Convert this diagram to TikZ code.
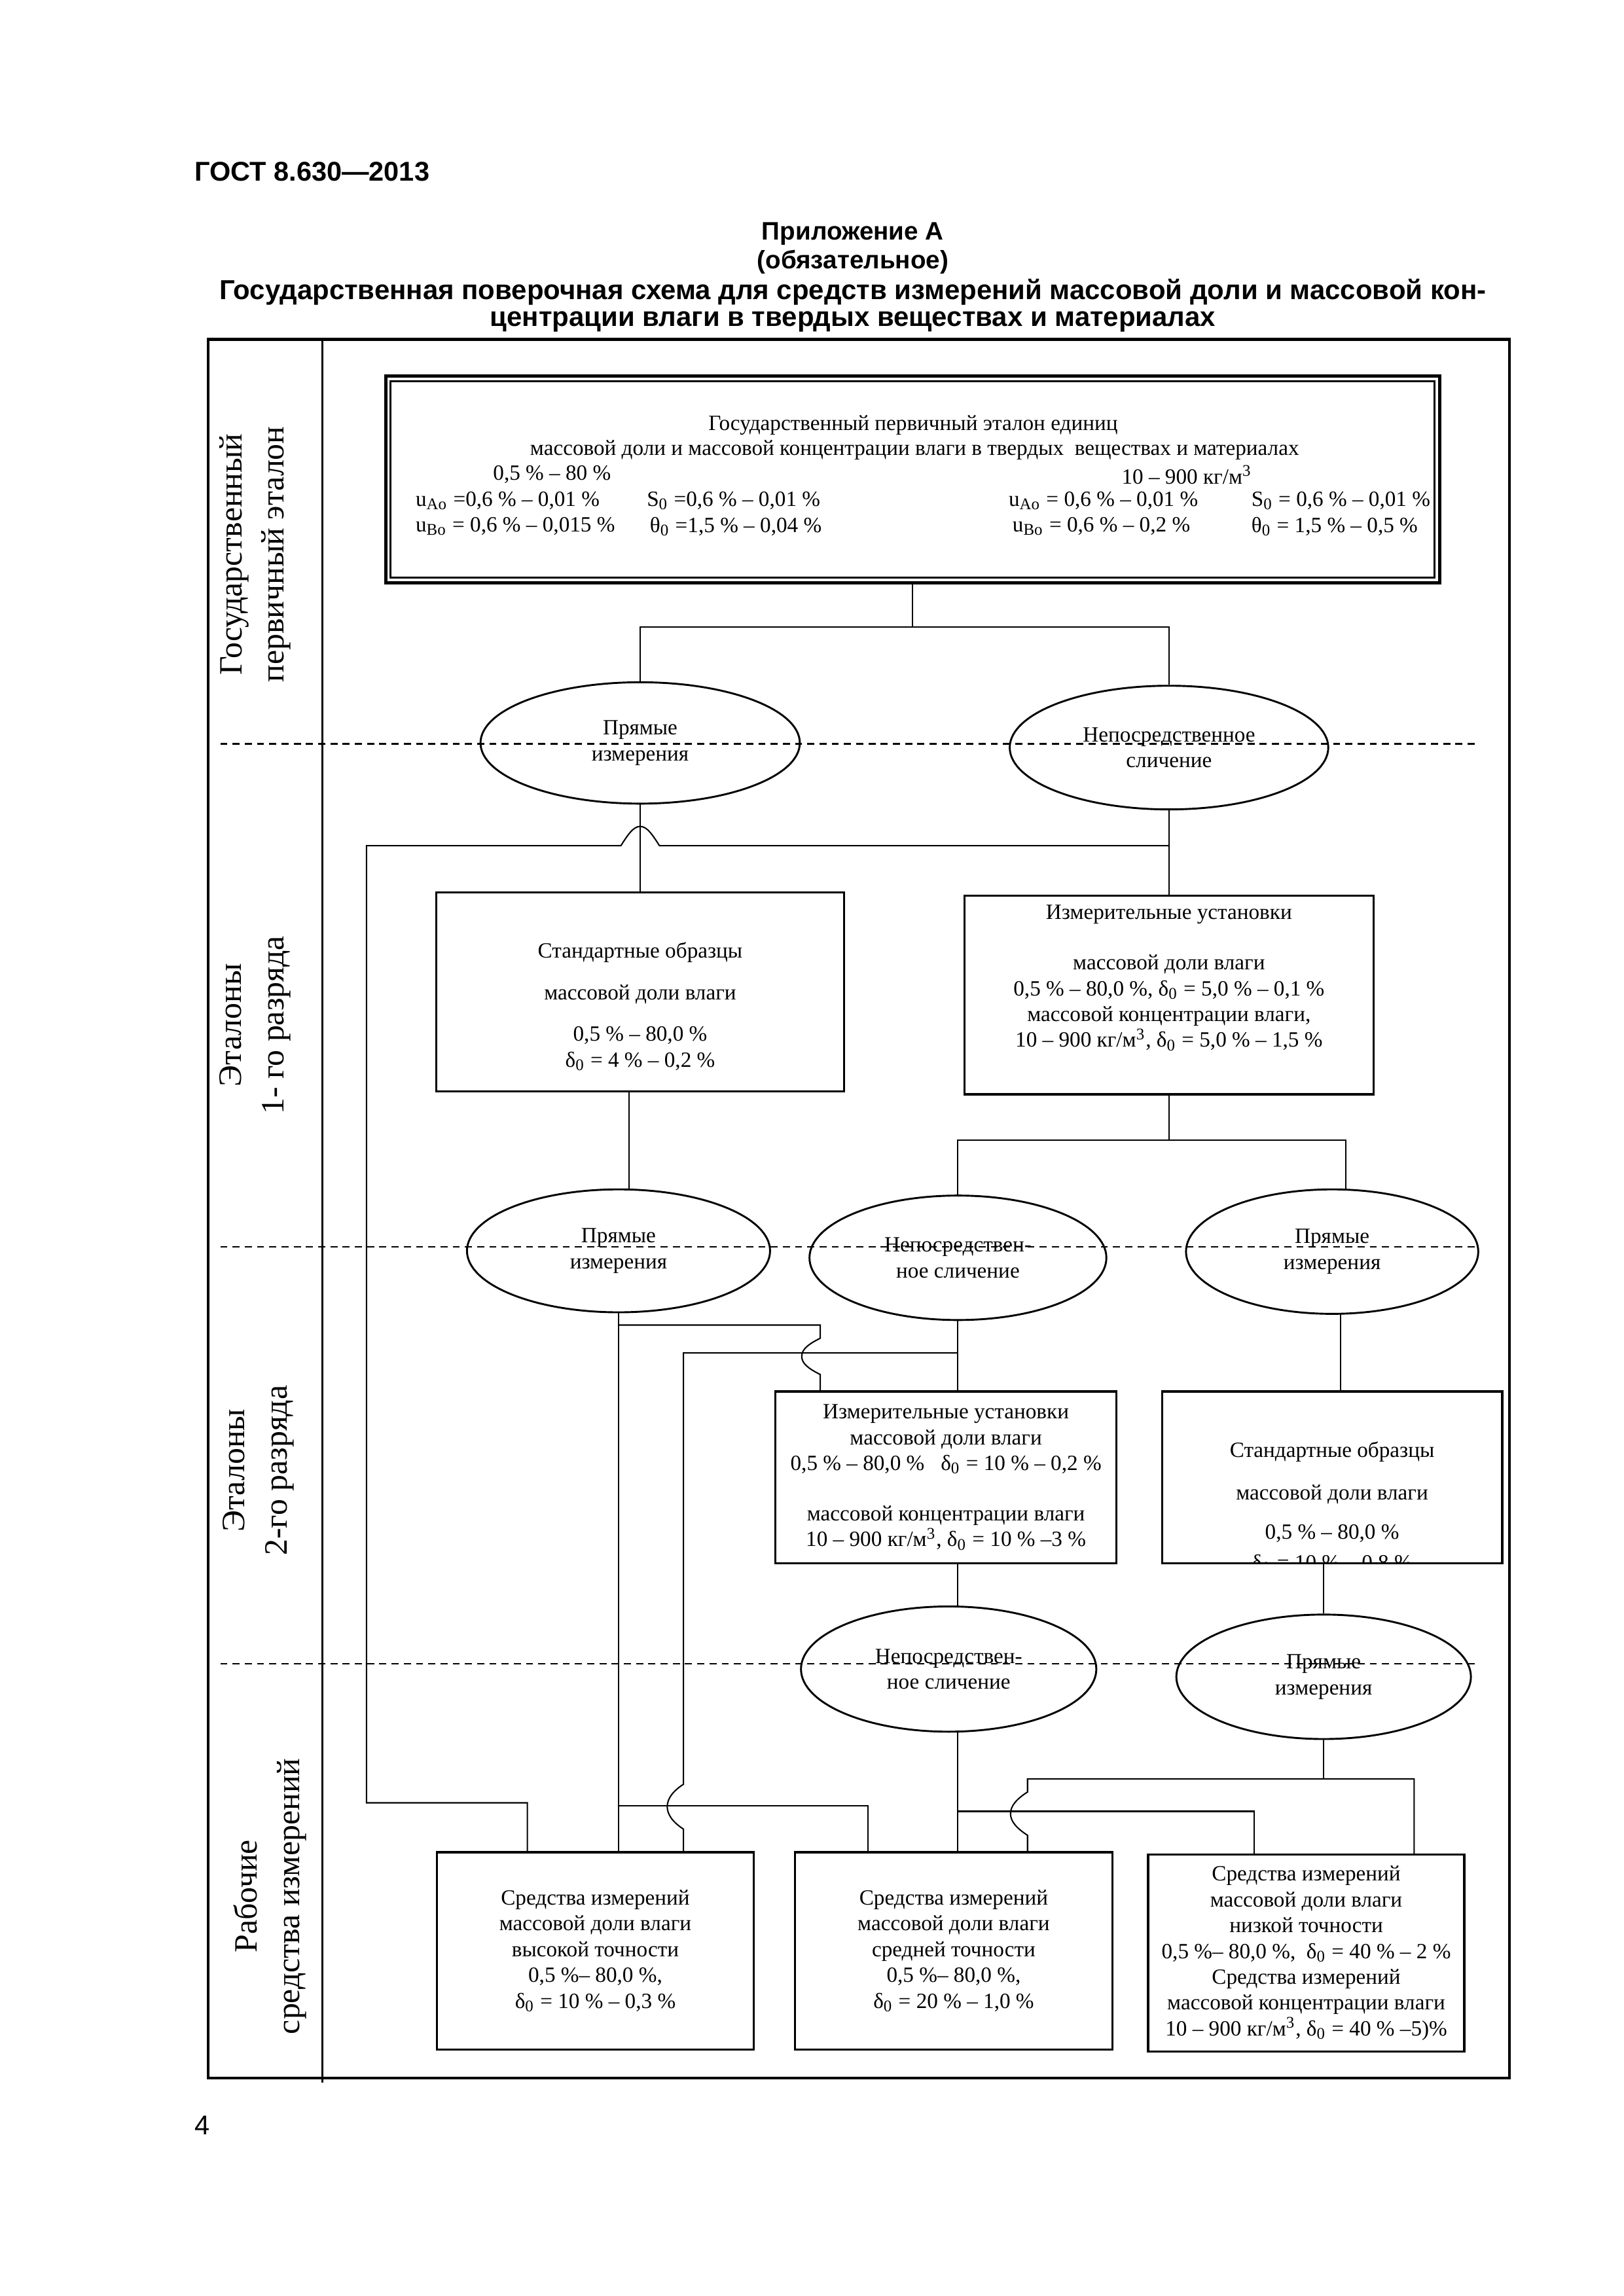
\documentclass[tikz,border=0pt]{standalone}
\usepackage{fontspec}
\setmainfont{Liberation Serif}
\newfontfamily\arialfont{Liberation Sans}
\usetikzlibrary{shapes.geometric,calc}

\begin{document}
\begin{tikzpicture}[x=1mm,y=-1mm,
  box/.style={draw,line width=0.8pt,inner sep=0pt},
  txt/.style={align=center,inner sep=0pt,font=\fontsize{8}{9.5}\selectfont},
  oval/.style={ellipse,draw,line width=0.7pt,inner sep=0pt,align=center,font=\fontsize{8}{9.5}\selectfont,minimum width=38.4mm,minimum height=16.1mm},
  side/.style={rotate=90,align=center,inner sep=0pt,font=\fontsize{12}{15.6}\selectfont},
  ln/.style={line width=0.5pt},
  lvl/.style={line width=0.6pt,dash pattern=on 2.6pt off 1.9pt},
  hdr/.style={align=center,inner sep=0pt,font=\arialfont\bfseries\fontsize{9.3}{10.8}\selectfont}]
 \useasboundingbox (0,0) rectangle (210,297);
 % page head
 \node[anchor=west,inner sep=0pt,font=\arialfont\bfseries\fontsize{10}{12}\selectfont] (gost) at (25.1,22.2) {ГОСТ 8.630—2013};
 \node[hdr] (app) at (110.3,32.1) {Приложение А\\(обязательное)};
 \node[hdr,font=\arialfont\bfseries\fontsize{10.1}{9.9}\selectfont] (title) at (110.3,39.55) {Государственная поверочная схема для средств измерений массовой доли и массовой кон-\\центрации влаги в твердых веществах и материалах};
 \node[anchor=west,inner sep=0pt,font=\arialfont\fontsize{10}{12}\selectfont] (pg) at (25.1,274.9) {4};
 % frame and levels
 \draw[line width=1pt] (26.9,43.9) rectangle (195.2,268.8);
 \draw[line width=0.8pt] (41.7,43.9) -- (41.7,269.4);
 \node[side] (g1) at (33.0,71.7) {Государственный\\первичный эталон};
 \node[side] (g2) at (33.0,132.6) {Эталоны\\1- го разряда};
 \node[side] (g3) at (33.4,190.2) {Эталоны\\2-го разряда};
 \node[side] (g4) at (34.9,245.3) {Рабочие\\средства измерений};
 % primary standard
 \node[draw,line width=1.2pt,inner sep=0pt,minimum width=136.3mm,minimum height=26.7mm] (prim) at (118.05,62.0) {};
 \draw[line width=0.7pt] ($(prim.south west)+(0.85,-0.85)$) rectangle ($(prim.north east)+(-0.85,0.85)$);
 \node[txt] (p1) at (118.1,55.0) {Государственный первичный эталон единиц};
 \node[txt] (p2) at (118.3,58.2) {массовой доли и массовой концентрации влаги в твердых\ \ веществах и материалах};
 \node[txt] (p3) at (71.4,61.4) {0,5 \% – 80 \%};
 \node[txt] (p4) at (153.5,61.4) {10 – 900 кг/м\textsuperscript{3}};
 \node[txt,anchor=west] (p5) at (53.7,64.8) {u\textsubscript{Ao} =0,6 \% – 0,01 \%};
 \node[txt,anchor=west] (p6) at (83.6,64.8) {S\textsubscript{0} =0,6 \% – 0,01 \%};
 \node[txt,anchor=west] (p7) at (130.4,64.8) {u\textsubscript{Ao} = 0,6 \% – 0,01 \%};
 \node[txt,anchor=west] (p8) at (161.8,64.8) {S\textsubscript{0} = 0,6 \% – 0,01 \%};
 \node[txt,anchor=west] (p9) at (53.7,68.1) {u\textsubscript{Bo} = 0,6 \% – 0,015 \%};
 \node[txt,anchor=west] (p10) at (84.0,68.1) {θ\textsubscript{0} =1,5 \% – 0,04 \%};
 \node[txt,anchor=west] (p11) at (130.9,68.1) {u\textsubscript{Bo} = 0,6 \% – 0,2 \%};
 \node[txt,anchor=west] (p12) at (161.8,68.1) {θ\textsubscript{0} = 1,5 \% – 0,5 \%};
 % methods, level 1
 \node[oval,minimum width=41.3mm,minimum height=15.7mm] (L1a) at (82.8,96.1) {Прямые\\измерения};
 \node[oval,minimum width=41.2mm,minimum height=16mm] (L1b) at (151.2,96.7) {Непосредственное\\сличение};
 % rank 1
 \node[box,minimum width=52.7mm,minimum height=25.7mm] (SO1) at (82.8,128.3) {};
 \node[txt] (so1t) at (82.8,130.2) {Стандартные образцы\\[5.8pt]массовой доли влаги\\[5.8pt]0,5 \% – 80,0 \%\\δ\textsubscript{0} = 4 \% – 0,2 \%};
 \node[box,minimum width=52.9mm,minimum height=25.7mm] (IU1) at (151.2,128.7) {};
 \node[txt] (iu1t) at (151.2,126.5) {Измерительные установки\\[9pt]массовой доли влаги\\0,5 \% – 80,0 \%, δ\textsubscript{0} = 5,0 \% – 0,1 \%\\массовой концентрации влаги,\\10 – 900 кг/м\textsuperscript{3}, δ\textsubscript{0} = 5,0 \% – 1,5 \%};
 % methods, level 2
 \node[oval,minimum width=39.2mm,minimum height=15.9mm] (L2a) at (80.0,161.8) {Прямые\\измерения};
 \node[oval] (L2b) at (123.9,162.7) {Непосредствен-\\ное сличение};
 \node[oval,minimum width=37.8mm] (L2c) at (172.3,161.9) {Прямые\\измерения};
 % rank 2
 \node[box,txt,minimum width=44.1mm,minimum height=22.2mm] (IU2) at (122.35,191.1) {Измерительные установки\\массовой доли влаги\\0,5 \% – 80,0 \%\ \ \ δ\textsubscript{0} = 10 \% – 0,2 \%\\[9pt]массовой концентрации влаги\\10 – 900 кг/м\textsuperscript{3}, δ\textsubscript{0} = 10 \% –3 \%};
 \node[box,minimum width=44mm,minimum height=22.2mm] (SO2) at (172.3,191.1) {};
 \begin{scope}
  \clip ($(SO2.south west)+(0.2,-0.2)$) rectangle ($(SO2.north east)+(-0.2,0.2)$);
  \node[txt] (so2t) at (172.3,195.0) {Стандартные образцы\\[6.2pt]массовой доли влаги\\[5pt]0,5 \% – 80,0 \%\\[1.9pt]δ\textsubscript{0} = 10 \% – 0,8 \%};
 \end{scope}
 % methods, level 3
 \node[oval,minimum width=38.2mm,minimum height=16.2mm] (L3a) at (122.7,215.9) {Непосредствен-\\ное сличение};
 \node[oval,minimum width=38.1mm] (L3b) at (171.2,216.9) {Прямые\\измерения};
 % working instruments
 \node[box,txt,minimum width=41mm,minimum height=25.5mm] (WM1) at (77.0,252.35) {Средства измерений\\массовой доли влаги\\высокой точности\\0,5 \%– 80,0 \%,\\δ\textsubscript{0} = 10 \% – 0,3 \%};
 \node[box,txt,minimum width=41.1mm,minimum height=25.5mm] (WM2) at (123.35,252.35) {Средства измерений\\массовой доли влаги\\средней точности\\0,5 \%– 80,0 \%,\\δ\textsubscript{0} = 20 \% – 1,0 \%};
 \node[box,txt,minimum width=40.9mm,minimum height=25.5mm] (WM3) at (168.95,252.65) {Средства измерений\\массовой доли влаги\\низкой точности\\0,5 \%– 80,0 \%,\ \ δ\textsubscript{0} = 40 \% – 2 \%\\Средства измерений\\массовой концентрации влаги\\10 – 900 кг/м\textsuperscript{3}, δ\textsubscript{0} = 40 \% –5)\%};
 % links: primary -> level 1
 \coordinate (t0) at (118.05,81.1);
 \draw[ln] (prim.south) -- (t0);
 \draw[ln] (L1a.north) |- (t0) -| (L1b.north);
 % links: level 1 -> rank 1
 \draw[ln] (L1a.south) -- (SO1.north);
 \draw[ln] (L1b.south) -- (IU1.north);
 \coordinate (k1) at (47.4,109.4);
 \coordinate (k2) at (47.4,233.2);
 \draw[ln] (L1b.south |- k1) -- ($(SO1.north |- k1)+(2.5,0)$)
   .. controls +(-0.9,-1.4) and +(0.9,0) .. ++(-2.5,-2.5)
   .. controls +(-0.9,0) and +(0.9,-1.4) .. ++(-2.5,2.5)
   -- (k1) -- (k2) -| ($(WM1.north)+(-8.8,0)$);
 % links: rank 1 -> level 2
 \coordinate (s1) at (81.4,141.2);
 \draw[ln] (s1) -- (s1 |- L2a.north);
 \coordinate (t2) at (151.2,147.5);
 \draw[ln] (IU1.south) -- (t2);
 \coordinate (t3) at (174.1,147.5);
 \draw[ln] (L2b.north) |- (t2) -- (t3) -- (t3 |- L2c.north);
 % links: level 2 -> rank 2, working
 \draw[ln] (L2a.south) -- (L2a.south |- WM1.north);
 \coordinate (m1) at (80.0,171.4);
 \coordinate (m2) at (106.1,171.4);
 \draw[ln] (m1) -- (m2) -- ++(0,1.7)
   .. controls +(-1.6,0.8) and +(0,-0.9) .. ++(-2.4,2.35)
   .. controls +(0,0.9) and +(-1.6,-0.8) .. ++(2.4,2.35)
   -- (m2 |- IU2.north);
 \coordinate (m3) at (88.4,175.0);
 \draw[ln] (L2b.south) -- (L2b.south |- IU2.north);
 \draw[ln] (L2b.south |- m3) -- (m3) -- ++(0,55.8)
   .. controls +(-1.4,0.9) and +(0,-1.0) .. ++(-2.1,2.9)
   .. controls +(0,1.0) and +(-1.4,-0.9) .. ++(2.1,2.9)
   -- (m3 |- WM1.north);
 \coordinate (s2) at (173.4,169.9);
 \draw[ln] (s2) -- (s2 |- SO2.north);
 % links: rank 2 -> level 3
 \coordinate (s3) at (123.9,202.2);
 \draw[ln] (s3) -- (s3 |- L3a.north);
 \draw[ln] (SO2.south -| L3b.north) -- (L3b.north);
 % links: level 3 -> working
 \coordinate (s4) at (123.9,224.0);
 \draw[ln] (s4) -- (s4 |- WM2.north);
 \coordinate (r1) at (132.9,230.1);
 \coordinate (r2) at (182.9,230.1);
 \draw[ln] (L3b.south) -- (L3b.south |- r1);
 \draw[ln] (r2 |- WM3.north) -- (r2) -- (r1) -- ++(0,1.7)
   .. controls +(-1.4,0.9) and +(0,-1.0) .. ++(-2.2,2.8)
   .. controls +(0,1.0) and +(-1.4,-0.9) .. ++(2.2,2.8)
   -- (r1 |- WM2.north);
 \coordinate (r3) at (162.2,234.3);
 \draw[ln] (s4 |- r3) -- (r3) -- (r3 |- WM3.north);
 \coordinate (w1) at (112.3,233.6);
 \draw[ln] (L2a.south |- w1) -- (w1) -- (w1 |- WM2.north);
 % level borders
 \draw[lvl] (28.5,96.2) -- (190.9,96.2);
 \draw[lvl] (28.5,161.3) -- (190.9,161.3);
 \draw[lvl] (28.5,215.2) -- (190.9,215.2);
\end{tikzpicture}
\end{document}
